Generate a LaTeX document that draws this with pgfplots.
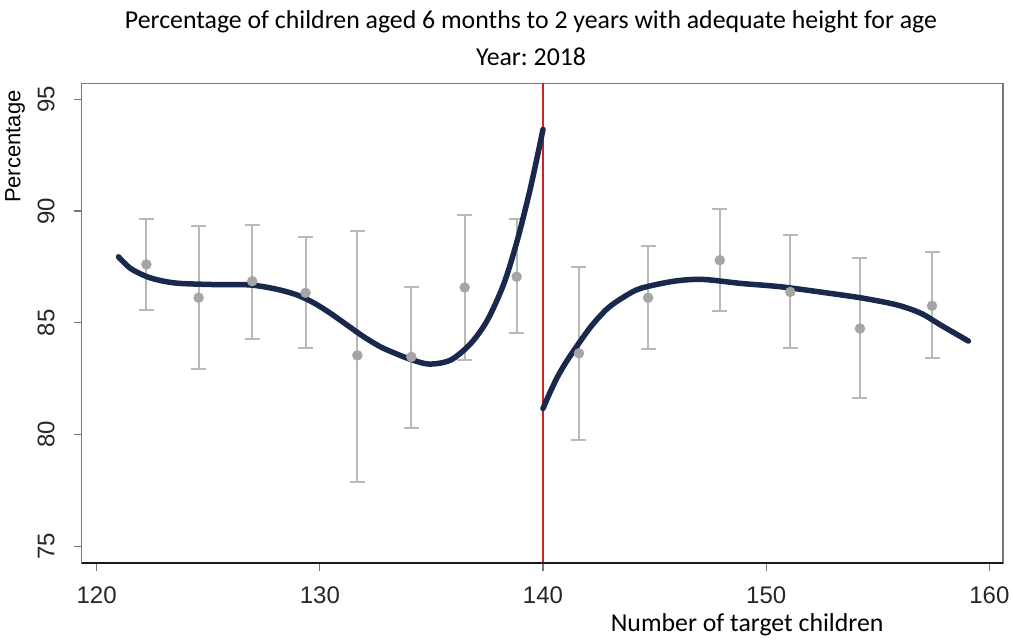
\documentclass[border=0pt]{standalone}
\usepackage{fontspec}
\setmainfont{Carlito}
\newfontfamily\arialf{Liberation Sans}
\usepackage{pgfplots}
\pgfplotsset{compat=1.18}
\usepackage{pgfplotstable}
\frenchspacing

\definecolor{navy}{RGB}{27,40,78}
\definecolor{dotgray}{RGB}{165,165,165}
\definecolor{bargray}{RGB}{185,185,185}
\definecolor{vred}{RGB}{205,35,35}
\definecolor{axgray}{RGB}{120,120,120}

\pgfplotstableread{
x y ep em
122.23 87.61 2.02 2.05
124.57 86.12 3.21 3.20
126.97 86.86 2.50 2.61
129.36 86.34 2.48 2.49
131.68 83.54 5.58 5.68
134.10 83.47 3.11 3.20
136.49 86.58 3.24 3.25
138.82 87.06 2.57 2.51
141.61 83.63 3.85 3.86
144.71 86.12 2.32 2.30
147.92 87.80 2.27 2.28
151.08 86.38 2.54 2.49
154.20 84.74 3.15 3.10
157.43 85.76 2.40 2.33
}\bins

\pgfplotstableread{
x y
120.98 87.95
121.52 87.43
122.26 87.06
123.00 86.86
123.75 86.76
125.25 86.71
126.74 86.70
127.50 86.61
128.24 86.46
128.99 86.24
129.73 85.89
130.48 85.42
131.23 84.89
131.97 84.37
132.72 83.92
133.40 83.62
134.07 83.36
134.89 83.15
135.86 83.33
136.76 84.07
137.51 85.12
138.25 86.76
138.85 88.70
139.45 91.09
140.00 93.66
}\fitleft

\pgfplotstableread{
x y
140.00 81.16
140.30 81.85
140.65 82.58
141.00 83.18
141.39 83.77
142.14 84.82
142.89 85.64
143.63 86.16
144.38 86.54
145.87 86.86
147.15 86.94
148.87 86.76
150.65 86.61
152.90 86.31
154.39 86.09
155.89 85.79
156.94 85.42
157.83 84.89
159.06 84.18
}\fitright

\begin{document}
\begin{tikzpicture}
\begin{axis}[
  scale only axis,
  width=921.3pt, height=480pt,
  xmin=119.33, xmax=160.61,
  ymin=74.23, ymax=95.72,
  xtick={120,130,140,150,160},
  ytick={75,80,85,90,95},
  tick pos=left,
  tick align=outside,
  major tick length=8pt,
  every tick/.style={draw=axgray, line width=1.2pt},
  axis line style={draw=axgray, line width=1.4pt},
  /pgf/number format/assume math mode=true,
  ticklabel style={font=\arialf\fontsize{24}{28}\selectfont, text=black!85},
  yticklabel style={rotate=90, anchor=south, inner ysep=0pt},
  yticklabel shift=19pt,
  xticklabel shift=12pt,
  clip=false,
]
\addplot[only marks, mark=*, mark size=5pt,
  mark options={fill=dotgray, draw=dotgray},
  error bars/.cd, y dir=both, y explicit,
  error bar style={line width=2pt, draw=bargray},
  error mark options={rotate=90, mark size=7.5pt, line width=2pt, draw=bargray}]
  table[x=x, y=y, y error plus=ep, y error minus=em] {\bins};
\addplot[vred, line width=1.8pt] coordinates {(140,74.23) (140,95.72)};
\addplot[navy, line width=5.5pt, smooth, line cap=round] table[x=x,y=y] {\fitleft};
\addplot[navy, line width=5.5pt, smooth, line cap=round] table[x=x,y=y] {\fitright};
\draw[black!90, line width=2.2pt] (rel axis cs:0,0) -- (rel axis cs:1,0);
\node[font=\fontsize{25.8}{30}\selectfont, anchor=center] at ([yshift=61.3pt]rel axis cs:0.4877,1) {Percentage of children aged 6 months to 2 years with adequate height for age};
\node[font=\fontsize{25.8}{30}\selectfont, anchor=center] at ([yshift=26.3pt]rel axis cs:0.4877,1) {Year: 2018};
\node[font=\fontsize{25.8}{30}\selectfont, anchor=east] at ([xshift=4pt,yshift=-61.7pt]rel axis cs:0.8698,0) {Number of target children};
\node[font=\arialf\fontsize{22}{26}\selectfont, rotate=90, anchor=center] at ([xshift=-66.7pt]rel axis cs:0,0.868) {Percentage};
\end{axis}
\pgfresetboundingbox
\useasboundingbox (-81.7pt,-77.7pt) rectangle (931.3pt,563.3pt);
\end{tikzpicture}
\end{document}
